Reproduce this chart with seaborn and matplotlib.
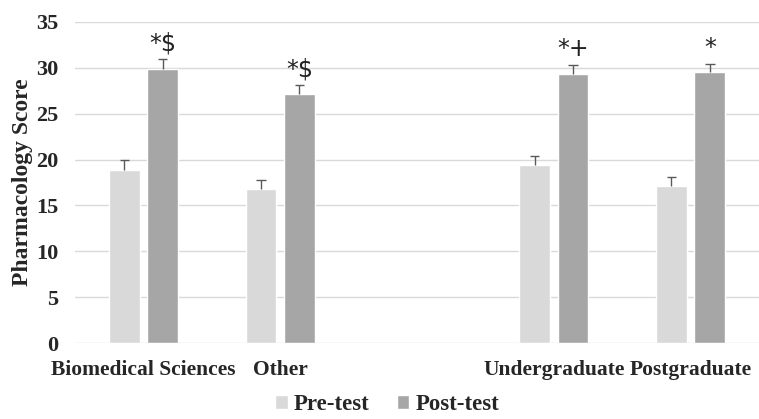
import numpy as np
import pandas as pd
import matplotlib
matplotlib.use("Agg")
import matplotlib.pyplot as plt
import seaborn as sns

# данные
categories = ["Biomedical Sciences", "Other", "", "Undergraduate", "Postgraduate"]
pre_test = [18.9, 16.8, np.nan, 19.4, 17.1]
post_test = [29.9, 27.1, np.nan, 29.3, 29.5]
pre_err = [1.05, 1.0, np.nan, 1.0, 1.0]
post_err = [1.0, 1.0, np.nan, 1.0, 0.9]
marks = ["*$", "*$", "", "*+", "*"]

sns.set_style("white")
serif = "Liberation Serif"

df = pd.DataFrame({
    "Group": categories * 2,
    "Score": pre_test + post_test,
    "Test": ["Pre-test"] * 5 + ["Post-test"] * 5,
})

fig = plt.figure(figsize=(7.59, 4.19), dpi=100)
ax = fig.add_axes([0.099, 0.181, 0.901, 0.767])

sns.barplot(data=df, x="Group", y="Score", hue="Test", order=categories,
            hue_order=["Pre-test", "Post-test"],
            palette=["#d9d9d9", "#a6a6a6"], width=0.56, gap=0.2,
            errorbar=None, ax=ax, legend=True)

# усы ошибок (только вверх) и значки
for k, (cont, vals, errs) in enumerate(zip(ax.containers, [pre_test, post_test], [pre_err, post_err])):
    for bar in cont:
        xc = bar.get_x() + bar.get_width() / 2
        i = int(round(xc))
        v, e = vals[i], errs[i]
        if np.isnan(v):
            continue
        ax.vlines(xc, v, v + e, color="#595959", linewidth=1, zorder=3)
        ax.hlines(v + e, xc - 0.035, xc + 0.035, color="#595959", linewidth=1, zorder=3)
        if k == 1 and marks[i]:
            ax.text(xc, v + e + 0.4, marks[i], ha="center", va="bottom", fontsize=17,
                    family="DejaVu Sans", color="#222222")

ax.set_ylim(0, 35)
ax.set_xlim(-0.5, 4.5)
ax.set_yticks(range(0, 36, 5))
ax.yaxis.grid(True, color="#d9d9d9", linewidth=1)
ax.set_axisbelow(True)
for s in ax.spines.values():
    s.set_visible(False)
ax.tick_params(axis="y", length=0, pad=12)
ax.tick_params(axis="x", length=0, pad=12)
for lab in ax.get_yticklabels():
    lab.set_fontfamily(serif)
    lab.set_fontweight("bold")
    lab.set_fontsize(16)
ax.set_xticks(range(len(categories)))
ax.set_xticklabels(categories, fontfamily=serif, fontweight="bold", fontsize=15.5)
ax.set_xlabel("")
ax.set_ylabel("Pharmacology Score", fontfamily=serif, fontweight="bold",
              fontsize=17, labelpad=2)

handles, labels = ax.get_legend_handles_labels()
ax.get_legend().remove()
fig.legend(handles, labels, loc="lower center", bbox_to_anchor=(0.51, -0.04),
           ncol=2, frameon=False, handlelength=0.55, handleheight=0.55,
           handletextpad=0.25, columnspacing=1.2,
           prop={"family": serif, "weight": "bold", "size": 16.5})

fig.savefig("out.png", dpi=100)
